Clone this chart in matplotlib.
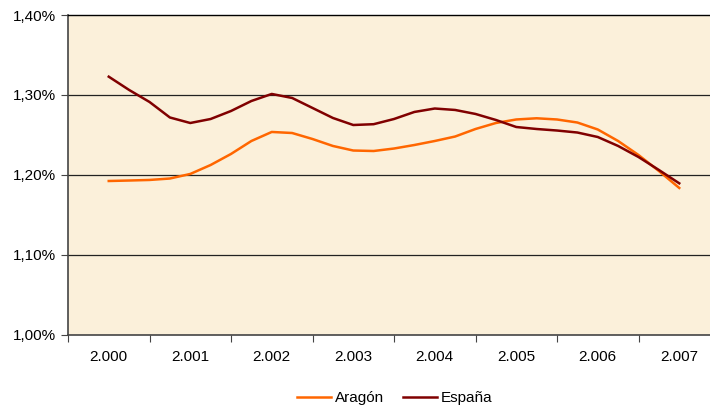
import matplotlib.pyplot as plt
import numpy as np

plt.rcParams['font.family'] = ['Liberation Sans', 'DejaVu Sans']

YEARS = ["2.000", "2.001", "2.002", "2.003", "2.004", "2.005", "2.006", "2.007"]

# quarterly readings, 2000 to 2007 (29 points)
aragon = [1.1925, 1.1931, 1.1938, 1.1956, 1.2013, 1.2125, 1.2263, 1.2425,
          1.2538, 1.2525, 1.2450, 1.2363, 1.2306, 1.2300, 1.2331, 1.2375,
          1.2425, 1.2481, 1.2575, 1.2650, 1.2694, 1.2709, 1.2694, 1.2656,
          1.2569, 1.2425, 1.2250, 1.2050, 1.1838]
espana = [1.3229, 1.3063, 1.2913, 1.2719, 1.2650, 1.2700, 1.2800, 1.2925,
          1.3013, 1.2963, 1.2838, 1.2713, 1.2625, 1.2635, 1.2700, 1.2788,
          1.2831, 1.2813, 1.2763, 1.2688, 1.2600, 1.2575, 1.2556, 1.2531,
          1.2475, 1.2363, 1.2225, 1.2063, 1.1896]

x = np.arange(len(aragon)) / 4.0

fig = plt.figure(figsize=(7.1, 4.08), dpi=100)
ax = fig.add_axes([68/710, 73/408, 652/710, 320/408])
ax.set_facecolor("#fbf0da")

ax.plot(x, aragon, color="#ff6600", lw=1.8, label="Aragón", solid_joinstyle="round")
ax.plot(x, espana, color="#800000", lw=1.8, label="España", solid_joinstyle="round")

ax.set_xlim(-0.5, 7.5)
ax.set_ylim(1.0, 1.4)

yt = [1.0, 1.1, 1.2, 1.3, 1.4]
ax.set_yticks(yt)
ax.set_yticklabels([("%.2f%%" % v).replace(".", ",") for v in yt], fontsize=11)
for v in [1.1, 1.2, 1.3]:
    ax.axhline(v, color="#222222", lw=0.9, zorder=1)

ax.set_xticks(np.arange(-0.5, 8, 1.0))
ax.set_xticklabels([])
ax.set_xticks(np.arange(8), minor=True)
ax.set_xticklabels(YEARS, minor=True, fontsize=11)
ax.tick_params(axis="x", which="minor", length=0, pad=11)
ax.tick_params(axis="x", which="major", length=5, direction="out", color="#444444")
ax.tick_params(axis="y", length=5, direction="out", color="#444444", pad=4)

ax.spines["top"].set_color("black")
ax.spines["top"].set_linewidth(1.0)
ax.spines["left"].set_color("#444444")
ax.spines["bottom"].set_color("#444444")
ax.spines["left"].set_linewidth(1.2)
ax.spines["bottom"].set_linewidth(1.2)
ax.spines["right"].set_visible(False)

fig.legend(loc="center", bbox_to_anchor=(395/710, 1 - 398/408), ncol=2,
           frameon=False, fontsize=11, handlelength=2.2, handletextpad=0.3,
           columnspacing=1.2)

fig.savefig("out.png", dpi=100)
